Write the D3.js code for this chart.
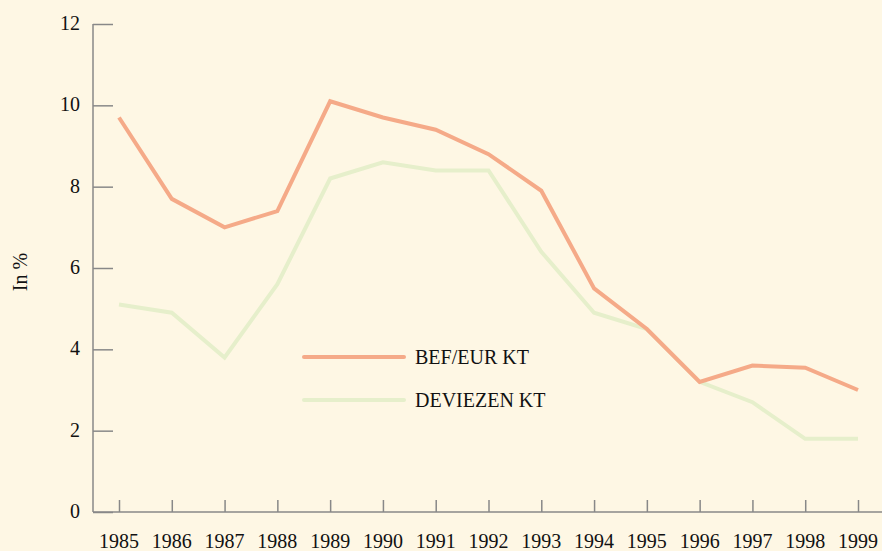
<!DOCTYPE html>
<html><head><meta charset="utf-8">
<script src="https://cdn.jsdelivr.net/npm/d3@7"></script>
<style>
html,body{margin:0;padding:0;background:#FEF7E4;}
svg{display:block;}
text{font-family:"Liberation Serif","Times New Roman",serif;fill:#111;}
</style></head><body>
<script>
const years = [1985,1986,1987,1988,1989,1990,1991,1992,1993,1994,1995,1996,1997,1998,1999];
const befEur = [9.7,7.7,7.0,7.4,10.1,9.7,9.4,8.8,7.9,5.5,4.5,3.2,3.6,3.55,3.0];
const deviezen = [5.1,4.9,3.8,5.6,8.2,8.6,8.4,8.4,6.4,4.9,4.5,3.2,2.7,1.8,1.8];
const yTicks = [0,2,4,6,8,10,12];
const seriesNames = ["BEF/EUR KT","DEVIEZEN KT"];
const seriesColors = ["#F5AA88","#E6EFCB"];

const W=882,H=551;
const svg=d3.select("body").append("svg").attr("width",W).attr("height",H);
svg.append("rect").attr("width",W).attr("height",H).attr("fill","#FEF7E4");

const x=d3.scalePoint().domain(years).range([119,858]);
const y=d3.scaleLinear().domain([0,12]).range([512,24]);
const axisColor="#888";
const fs=20;

// y axis
const yAx=svg.append("g").attr("transform","translate(93,0)")
  .call(d3.axisRight(y).tickValues(yTicks).tickSize(20).tickFormat(""));
yAx.select(".domain").attr("stroke",axisColor).attr("stroke-width",1.5).attr("d","M0,24V512");
yAx.selectAll(".tick line").attr("stroke",axisColor).attr("stroke-width",1.5);
svg.selectAll(".ylab").data(yTicks).enter().append("text")
  .attr("x",80).attr("y",d=>y(d)).attr("dy","0.3em").attr("text-anchor","end")
  .attr("font-size",fs).text(d=>d);

// x axis
const xAx=svg.append("g").attr("transform","translate(0,512)")
  .call(d3.axisTop(x).tickSize(12).tickFormat(""));
xAx.select(".domain").attr("stroke",axisColor).attr("stroke-width",1.5).attr("d","M93,0H882");
xAx.selectAll(".tick line").attr("stroke",axisColor).attr("stroke-width",1.5);
svg.selectAll(".xlab").data(years).enter().append("text")
  .attr("x",d=>x(d)).attr("y",548).attr("text-anchor","middle")
  .attr("font-size",fs).text(d=>d);

// y title
svg.append("text").attr("transform","translate(27,272) rotate(-90)")
  .attr("text-anchor","middle").attr("font-size",fs).text("In %");

const line=d3.line().x((d,i)=>x(years[i])).y(d=>y(d));
const data=[befEur,deviezen];
[1,0].forEach(k=>{
  svg.append("path").datum(data[k]).attr("d",line).attr("fill","none")
    .attr("stroke",seriesColors[k]).attr("stroke-width",4).attr("stroke-linejoin","miter");
});

// legend
const legY=[357,400];
seriesNames.forEach((n,k)=>{
  svg.append("line").attr("x1",304).attr("x2",404).attr("y1",legY[k]).attr("y2",legY[k])
    .attr("stroke",seriesColors[k]).attr("stroke-width",4).attr("stroke-linecap","round");
  svg.append("text").attr("x",415).attr("y",legY[k]).attr("dy","0.33em")
    .attr("font-size",fs).text(n);
});
</script>
</body></html>
